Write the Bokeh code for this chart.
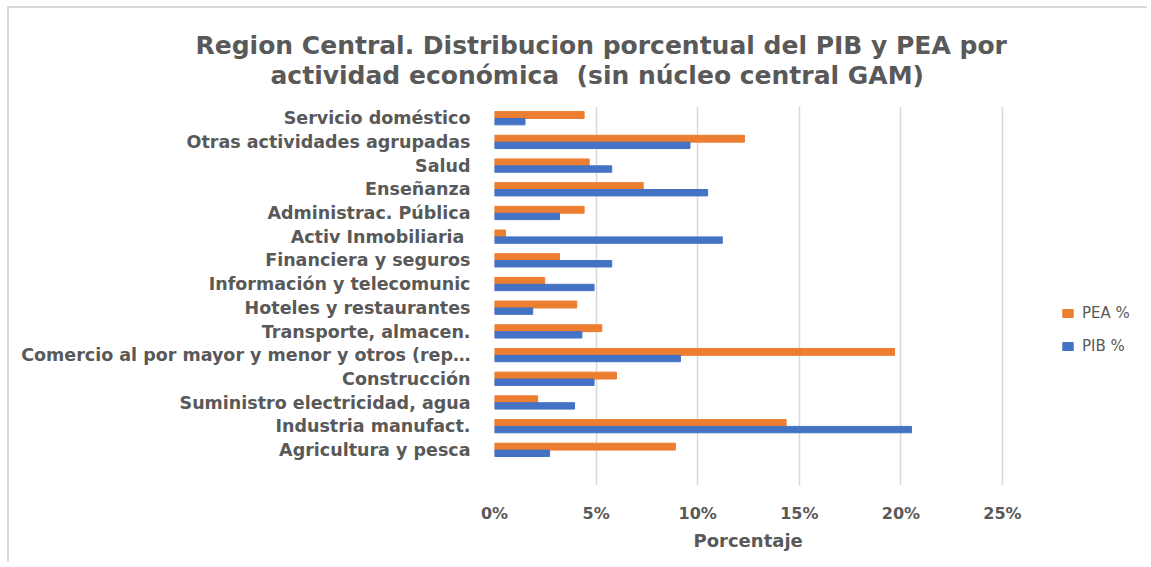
from bokeh.plotting import figure
from bokeh.models import FactorRange, ColumnDataSource, Legend, LegendItem, NumeralTickFormatter, FixedTicker, Title
from bokeh.transform import dodge
from bokeh.embed import file_html
from bokeh.resources import INLINE

categories = [
    "Agricultura y pesca",
    "Industria manufact.",
    "Suministro electricidad, agua",
    "Construcción",
    "Comercio al por mayor y menor y otros (rep…",
    "Transporte, almacen.",
    "Hoteles y restaurantes",
    "Información y telecomunic",
    "Financiera y seguros",
    "Activ Inmobiliaria ",
    "Administrac. Pública",
    "Enseñanza",
    "Salud",
    "Otras actividades agrupadas",
    "Servicio doméstico",
]
pea = [0.089, 0.1435, 0.0212, 0.060, 0.1969, 0.0528, 0.0405, 0.0247, 0.0320, 0.0054, 0.0441, 0.0732, 0.0466, 0.1230, 0.0441]
pib = [0.0271, 0.2052, 0.0394, 0.0490, 0.0915, 0.0430, 0.0188, 0.0490, 0.0577, 0.1121, 0.0320, 0.1049, 0.0577, 0.0962, 0.0150]
x_ticks = [0, 0.05, 0.10, 0.15, 0.20, 0.25]
title_lines = ["Region Central. Distribucion porcentual del PIB y PEA por",
               "actividad económica \u00a0(sin núcleo central GAM)"]
x_label = "Porcentaje"

GRAY = "#595959"
ORANGE = "#ED7D31"
BLUE = "#4472C4"
FONT = "DejaVu Sans"

src = ColumnDataSource(data=dict(cat=categories, pea=pea, pib=pib))

# a blank slot below the last category, like the spreadsheet's plot area
factors = [" "] + categories

# plot area runs on to the right edge so the legend can sit beside the 25% line
X_END = 0.25 * 655 / 508

p = figure(
    width=1140, height=556,
    y_range=FactorRange(*factors, range_padding=0.0),
    x_range=(0, X_END),
    output_backend="svg", toolbar_location=None,
    min_border_left=485, min_border_right=0, min_border_top=98, min_border_bottom=79,
    styles={"margin-left": "7px", "margin-top": "6px",
            "border-left": "2px solid #D9D9D9", "border-top": "2px solid #D9D9D9"},
)

p.title.text = title_lines[0]
p.title.align = "left"
p.title.offset = -299
p.title.text_font = FONT
p.title.text_font_size = "25px"
p.title.text_font_style = "bold"
p.title.text_color = GRAY
p.title.standoff = -37
t2 = Title(text=title_lines[1], align="left", offset=-224, text_font=FONT,
           text_font_size="25px", text_font_style="bold", text_color=GRAY, standoff=34)
p.add_layout(t2, "above")

r1 = p.hbar(y=dodge("cat", 0.14, range=p.y_range), right="pea", left=0, height=0.29,
            source=src, color=ORANGE)
r2 = p.hbar(y=dodge("cat", -0.14, range=p.y_range), right="pib", left=0, height=0.27,
            source=src, color=BLUE)

p.outline_line_color = None
p.border_fill_color = "white"
p.background_fill_color = "white"

p.xgrid.grid_line_color = "#D9D9D9"
p.xgrid.grid_line_width = 1.5
p.ygrid.grid_line_color = None

p.xaxis.ticker = FixedTicker(ticks=x_ticks)
p.xaxis.formatter = NumeralTickFormatter(format="0%")
p.xaxis.axis_line_color = None
p.xaxis.major_tick_line_color = None
p.xaxis.minor_tick_line_color = None
p.xaxis.major_label_standoff = 12
p.xaxis.major_label_text_font = FONT
p.xaxis.major_label_text_font_size = "16px"
p.xaxis.major_label_text_font_style = "bold"
p.xaxis.major_label_text_color = GRAY

xt = Title(text=x_label, align="left", offset=199, text_font=FONT,
           text_font_size="18px", text_font_style="bold", text_color=GRAY, standoff=5)
p.add_layout(xt, "below")

p.yaxis.axis_line_color = None
p.yaxis.major_tick_line_color = None
p.yaxis.minor_tick_line_color = None
p.yaxis.major_label_standoff = 18
p.yaxis.major_label_text_font = FONT
p.yaxis.major_label_text_font_size = "17.5px"
p.yaxis.major_label_text_font_style = "bold"
p.yaxis.major_label_text_color = GRAY

legend = Legend(
    items=[LegendItem(label="PEA %", renderers=[r1]), LegendItem(label="PIB %", renderers=[r2])],
    location=(567, 130),
    orientation="vertical",
    label_text_font=FONT,
    label_text_font_size="15px",
    label_text_color=GRAY,
    label_standoff=8,
    glyph_width=13, glyph_height=10,
    spacing=15,
    border_line_color=None,
    background_fill_alpha=0,
)
p.add_layout(legend, "center")

open("out.html", "w").write(file_html(p, INLINE))
